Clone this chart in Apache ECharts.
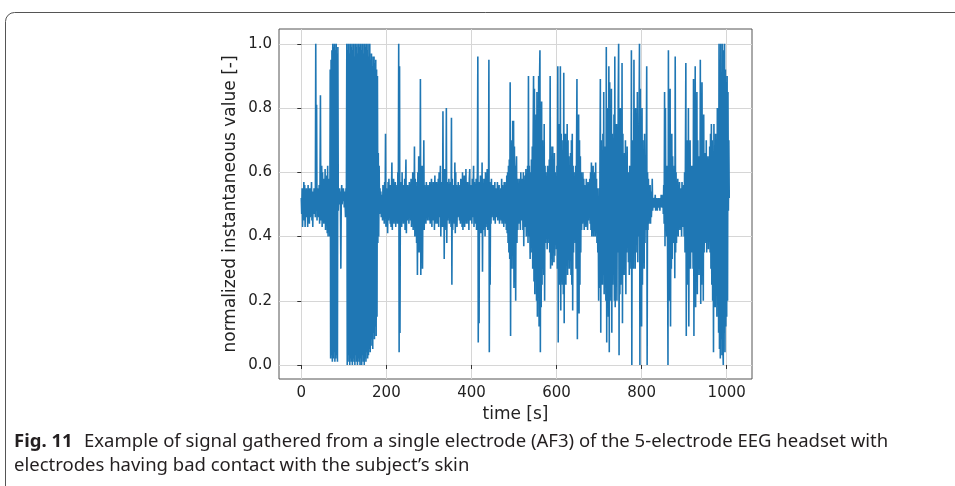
<!DOCTYPE html>
<html>
<head>
<meta charset="utf-8">
<script src="https://cdn.jsdelivr.net/npm/echarts@6/dist/echarts.min.js"></script>
<style>
html,body{margin:0;padding:0;background:#fff;}
#chart{width:955px;height:486px;}
</style>
</head>
<body>
<div id="chart"></div>
<script>
// Signal samples, normalized value in percent, one sample per second
const signal000 = [
52,47,55,43,54,49,57,45,56,43, 53,46,55,48,54,43,56,49,52,44,
55,46,53,48,57,45,54,43,53,49, 55,47,54,46,100,48,81,45,55,47,
54,46,56,44,55,84,45,54,62,43, 60,45,58,44,55,46,61,42,57,44,
59,41,62,40,56,43,58,40,92,2, 95,3,98,1,100,2,99,4,100,1,
98,2,100,3,97,1,99,48,53,51, 55,50,54,30,52,56,50,54,51,55];
const signal100 = [
53,49,54,50,46,55,52,100,0,98, 1,100,3,97,0,100,2,99,1,100,
0,98,2,100,1,96,0,100,3,99, 1,100,0,97,2,100,1,99,0,100,
2,98,0,100,3,100,1,97,0,100, 2,99,1,100,4,98,2,100,3,96,
5,100,4,95,6,97,8,93,5,96, 10,96,8,94,12,95,9,92,15,90,
38,66,40,62,47,55,49,54,46,53, 51,45,56,47,54,44,57,48,72,43];
const signal200 = [
55,46,53,41,57,45,58,47,55,44, 56,43,54,63,42,56,47,58,44,55,
46,57,43,55,45,56,44,60,47,100, 4,93,10,55,46,57,43,60,45,54,
44,56,47,58,42,55,64,41,53,45, 56,46,54,44,57,47,55,45,58,43,
55,47,60,42,56,45,68,40,58,44, 57,38,55,28,60,42,65,35,58,44,
89,28,56,40,62,30,55,45,70,42, 56,46,53,44,57,47,54,45,56,48];
const signal300 = [
53,45,57,44,56,47,58,43,55,46, 57,45,54,42,59,46,55,44,57,47,
55,44,58,43,60,46,56,62,40,55, 46,57,43,79,45,58,33,61,42,56,
44,80,38,57,45,55,46,58,44,56, 45,57,43,77,25,58,42,56,45,55,
44,63,41,60,45,56,43,55,46,57, 47,54,45,56,44,58,46,55,43,60,
42,57,45,59,43,56,47,61,44,55, 46,57,44,55,42,58,61,45,55,47];
const signal400 = [
56,44,58,46,55,62,43,57,45,54, 44,58,42,55,60,96,7,55,13,57,
43,59,41,56,44,63,29,58,42,55, 45,58,40,60,43,57,44,61,42,56,
46,95,4,57,25,55,44,58,46,55, 47,56,45,54,46,57,44,55,47,53,
46,57,45,55,47,56,44,54,46,55, 45,58,44,56,47,55,43,57,45,56,
44,57,42,59,41,60,38,62,35,64, 33,88,9,70,30,66,35,76,30,76];
const signal500 = [
24,68,35,62,20,60,65,38,58,42, 55,44,58,46,56,42,60,45,55,47,
58,42,60,37,56,44,59,43,61,40, 58,42,62,38,90,40,62,45,33,60,
38,64,35,68,30,70,90,26,86,22, 72,30,78,20,85,15,80,25,90,12,
88,98,4,75,18,82,25,70,30,65, 28,75,20,62,38,60,40,58,36,62,
38,60,42,64,35,90,30,68,33,65, 31,68,35,62,32,66,34,60,40,58];
const signal600 = [
36,62,30,93,7,70,28,75,25,93, 17,72,30,65,25,70,22,91,13,68,
30,72,25,68,32,75,28,70,35,65, 30,62,35,66,28,70,25,72,17,62,
35,60,40,58,38,62,30,65,89,8, 60,30,78,16,70,25,65,35,60,42,
56,44,60,45,58,42,56,46,55,43, 58,44,56,42,57,45,55,46,58,44,
60,42,63,40,58,41,62,40,56,44, 60,40,63,42,58,38,55,35,50,20];
const signal700 = [
55,24,58,89,10,70,30,65,25,72, 28,85,22,68,30,60,20,99,7,75,
25,80,15,93,4,88,20,70,30,86, 10,72,25,65,30,78,20,96,18,70,
28,75,20,68,35,82,100,3,70,22, 80,25,65,30,94,13,72,35,60,28,
66,30,70,22,62,35,68,40,58,32, 60,28,62,35,55,30,98,0,70,35,
65,30,95,38,72,30,80,35,68,40, 85,32,60,40,75,100,0,86,30,70];
const signal800 = [
12,80,25,70,35,65,30,72,38,60, 42,65,93,0,60,42,58,44,55,45,
56,44,54,46,50,58,48,52,49,51, 52,49,53,48,51,50,52,48,51,49,
52,50,51,48,52,49,53,50,51,49, 53,47,56,44,85,37,80,45,60,40,
62,35,0,98,30,70,20,86,12,72, 30,72,33,65,38,60,40,62,27,96,
35,60,38,56,42,58,40,55,44,57, 42,54,45,55,40,57,43,52,46,56];
const signal900 = [
40,60,35,65,94,9,70,30,62,25, 80,12,65,35,70,30,58,40,62,35,
60,30,89,9,72,28,93,18,75,30, 85,22,70,35,65,28,60,30,95,19,
72,25,88,30,65,20,78,35,60,40, 66,38,70,35,62,42,65,36,58,40,
68,35,72,30,75,25,70,20,60,4, 75,22,65,18,72,30,60,15,80,25,
70,10,100,5,95,2,100,8,90,3, 100,6,0,98,10,100,4,92,12,88,
15,90,20,85,48,70,52];
const sampleStepSec = 1;

const xTicks = [0, 200, 400, 600, 800, 1000];
const yTicks = [0, 0.2, 0.4, 0.6, 0.8, 1.0];

const xTitle = 'time [s]';
const yTitle = 'normalized instantaneous value [-]';
const captionBold = 'Fig. 11';
const captionLine1 = 'Example of signal gathered from a single electrode (AF3) of the 5-electrode EEG headset with';
const captionLine2 = 'electrodes having bad contact with the subject\u2019s skin';

const allPct = [].concat(signal000, signal100, signal200, signal300, signal400,
  signal500, signal600, signal700, signal800, signal900);
const seriesData = allPct.map((v, i) => [i * sampleStepSec, v / 100]);

const FONT = 'DejaVu Sans';
const chart = echarts.init(document.getElementById('chart'), null, {renderer: 'canvas'});
chart.setOption({
  animation: false,
  backgroundColor: '#ffffff',
  textStyle: {fontFamily: FONT},
  grid: {
    left: 279, right: 203, top: 29, bottom: 107,
    show: true, borderColor: '#555', borderWidth: 1, backgroundColor: 'transparent'
  },
  xAxis: {
    type: 'value', min: -52.4, max: 1059.5,
    axisLine: {show: false},
    axisTick: {show: true, customValues: xTicks, length: 4, lineStyle: {color: '#333'}},
    axisLabel: {customValues: xTicks, fontSize: 15, color: '#222', margin: 7, fontFamily: FONT,
      formatter: v => String(Math.round(v))},
    splitLine: {show: true, lineStyle: {color: '#d6d6d6', width: 1}},
    name: xTitle, nameLocation: 'middle', nameGap: 25,
    nameTextStyle: {fontSize: 17, color: '#222', fontFamily: FONT}
  },
  yAxis: {
    type: 'value', min: -0.0436, max: 1.046,
    axisLine: {show: false},
    axisTick: {show: true, customValues: yTicks, length: 4, lineStyle: {color: '#333'}},
    axisLabel: {customValues: yTicks, fontSize: 15, color: '#222', margin: 7, fontFamily: FONT,
      formatter: v => Number(v).toFixed(1)},
    splitLine: {show: true, lineStyle: {color: '#d6d6d6', width: 1}},
    name: yTitle, nameLocation: 'middle', nameGap: 40,
    nameTextStyle: {fontSize: 17, color: '#222', fontFamily: FONT}
  },
  series: [{
    type: 'line',
    data: seriesData,
    showSymbol: false,
    symbol: 'none',
    lineStyle: {color: '#1f77b4', width: 1.6},
    z: 3
  }],
  graphic: [
    {type: 'rect', shape: {x: 5.5, y: 12.5, width: 1300, height: 800, r: 9},
      style: {fill: 'none', stroke: '#555', lineWidth: 1}, silent: true},
    {type: 'text', left: 14, top: 432,
      style: {text: captionBold, font: 'bold 18.5px "Noto Sans"', fill: '#231f20'}},
    {type: 'text', left: 84, top: 432,
      style: {text: captionLine1, font: '18.5px "Noto Sans"', fill: '#231f20'}},
    {type: 'text', left: 14, top: 456,
      style: {text: captionLine2, font: '18.5px "Noto Sans"', fill: '#231f20'}}
  ]
});
</script>
</body>
</html>
